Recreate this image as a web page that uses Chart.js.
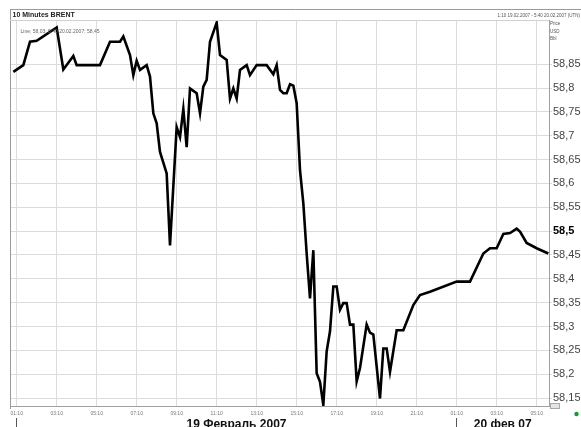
<!DOCTYPE html>
<html><head><meta charset="utf-8">
<script src="https://cdn.jsdelivr.net/npm/chart.js@4.4.0/dist/chart.umd.min.js"></script>
<style>html,body{margin:0;padding:0;background:#fff}#wrap{position:relative;width:581px;height:427px;overflow:hidden}</style>
</head><body><div id="wrap"><canvas id="c"></canvas></div>
<script>
// 10-minute bar index (0 = 01:10, 19 Feb 2007)
const barIndex = [-1,2,4,6,12,14,17,18,25,28,31,32,34,35,36,37,39,40,41,42,43,45,46,48,49,50,51,52,54,55,56,57,58,60,61,63,64,65,66,67,69,70,72,75,77,78,79,80,81,82,83,84,85,86,87,88,89,90,91,92,93,94,95,96,97,98,99,100,101,102,103,105,106,107,109,110,111,112,114,116,119,121,124,132,136,140,142,144,146,148,150,151,153,156,159.5];
const prices = [58.834,58.848,58.897,58.899,58.927,58.839,58.867,58.848,58.848,58.897,58.897,58.908,58.869,58.827,58.857,58.838,58.848,58.824,58.747,58.726,58.666,58.621,58.470,58.718,58.697,58.756,58.676,58.799,58.789,58.747,58.803,58.817,58.897,58.937,58.869,58.859,58.778,58.799,58.778,58.838,58.848,58.827,58.848,58.848,58.829,58.848,58.796,58.789,58.789,58.808,58.805,58.768,58.628,58.558,58.453,58.359,58.460,58.202,58.184,58.135,58.248,58.290,58.384,58.384,58.335,58.349,58.349,58.304,58.304,58.185,58.213,58.304,58.287,58.283,58.149,58.254,58.254,58.205,58.292,58.292,58.345,58.366,58.373,58.394,58.394,58.453,58.464,58.464,58.494,58.496,58.505,58.499,58.475,58.464,58.453];
const xTickValues = [0,12,24,36,48,60,72,84,96,108,120,132,144,156];
const xTickLabels = ['01:10','03:10','05:10','07:10','09:10','11:10','13:10','15:10','17:10','19:10','21:10','01:10','03:10','05:10'];
const yTickValues = [58.15,58.2,58.25,58.3,58.35,58.4,58.45,58.5,58.55,58.6,58.65,58.7,58.75,58.8,58.85];
const yTickLabels = ['58,15','58,2','58,25','58,3','58,35','58,4','58,45','58,5','58,55','58,6','58,65','58,7','58,75','58,8','58,85'];
const dayStarts = [0,132];
const dayLabels = ['19 Февраль 2007','20 фев 07'];
const titleText = '10 Minutes BRENT';
const rangeText = '1:10 19.02.2007 - 5:40 20.02.2007 (UTN)';
const legendText = 'Line; 58,03; 5:40 20.02.2007; 58,45';
const unitLabels = ['Price','USD','Bbl'];

const FONT = 'Liberation Sans, Arial, sans-serif';

const decor = {
  id: 'decor',
  afterDraw(chart) {
    const ctx = chart.ctx, ca = chart.chartArea, xs = chart.scales.x;
    ctx.save();
    // frame
    ctx.strokeStyle = '#9a9a9a'; ctx.lineWidth = 1;
    ctx.beginPath();
    ctx.moveTo(10, 9.5); ctx.lineTo(581, 9.5);
    ctx.moveTo(10.5, 9); ctx.lineTo(10.5, 409);
    ctx.stroke();
    ctx.strokeStyle = '#d0d0d0';
    ctx.beginPath(); ctx.moveTo(10, ca.top + 0.5); ctx.lineTo(ca.right, ca.top + 0.5); ctx.stroke();
    // title
    ctx.fillStyle = '#222'; ctx.textBaseline = 'middle'; ctx.textAlign = 'left';
    ctx.font = 'bold 7px ' + FONT;
    ctx.fillText(titleText, 12.5, 15);
    ctx.font = '4.5px ' + FONT; ctx.fillStyle = '#555';
    ctx.textAlign = 'right';
    ctx.fillText(rangeText, 580, 15.5);
    ctx.textAlign = 'left';
    unitLabels.forEach((t, i) => ctx.fillText(t, 550, 24 + i * 7.6));
    ctx.font = '5px ' + FONT; ctx.fillStyle = '#666';
    ctx.fillText(legendText, 20.5, 31.5);
    // day separators and labels
    ctx.strokeStyle = '#555'; ctx.lineWidth = 1;
    const px = dayStarts.map(v => Math.round(xs.getPixelForValue(v)) - 0.5);
    ctx.beginPath();
    px.forEach(p => { ctx.moveTo(p, 418); ctx.lineTo(p, 427); });
    ctx.stroke();
    ctx.fillStyle = '#111'; ctx.font = 'bold 12px ' + FONT;
    ctx.textAlign = 'center'; ctx.textBaseline = 'alphabetic';
    dayLabels.forEach((t, i) => {
      const a = px[i], b = i + 1 < px.length ? px[i + 1] : ca.right;
      ctx.fillText(t, (a + b) / 2, 428);
    });
    // small unit box + status dot
    ctx.fillStyle = '#e4e4e4'; ctx.fillRect(550, 403, 10, 6);
    ctx.strokeStyle = '#aaa'; ctx.strokeRect(550.5, 403.5, 9, 5);
    ctx.fillStyle = '#1a9a2a';
    ctx.beginPath(); ctx.arc(576.5, 414, 2.2, 0, Math.PI * 2); ctx.fill();
    ctx.restore();
  }
};

new Chart(document.getElementById('c'), {
  type: 'line',
  data: {
    datasets: [{
      data: barIndex.map((x, i) => ({ x: x, y: prices[i] })),
      borderColor: '#000', borderWidth: 2.6, pointRadius: 0, tension: 0,
      borderJoinStyle: 'miter', fill: false
    }]
  },
  options: {
    responsive: true, maintainAspectRatio: false, animation: false,
    layout: { padding: { left: 10, top: 20, right: 0, bottom: 0 } },
    plugins: { legend: { display: false }, tooltip: { enabled: false }, title: { display: false } },
    scales: {
      x: {
        type: 'linear', min: -2, max: 159.7,
        afterBuildTicks: s => { s.ticks = xTickValues.map(v => ({ value: v })); },
        afterFit: s => { s.height = 21; },
        grid: { color: '#dcdcdc', drawTicks: false, lineWidth: 1 },
        border: { display: true, color: '#a0a0a0' },
        ticks: {
          autoSkip: false, maxRotation: 0, padding: 5,
          font: { family: FONT, size: 5 }, color: '#777',
          callback: (v, i) => xTickLabels[i]
        }
      },
      y: {
        type: 'linear', position: 'right', min: 58.1333, max: 58.9426,
        afterBuildTicks: s => { s.ticks = yTickValues.map(v => ({ value: v })); },
        afterFit: s => { s.width = 32; },
        grid: { color: '#dcdcdc', tickLength: 3, lineWidth: 1 },
        border: { display: true, color: '#a0a0a0' },
        ticks: {
          padding: 1,
          font: c => (c.tick && Math.abs(c.tick.value - 58.5) < 1e-6) ? { family: FONT, size: 11, weight: 'bold' } : { family: FONT, size: 11 },
          color: c => (c.tick && Math.abs(c.tick.value - 58.5) < 1e-6) ? '#000' : '#444',
          callback: (v, i) => yTickLabels[i]
        }
      }
    }
  },
  plugins: [decor]
});
</script></body></html>
